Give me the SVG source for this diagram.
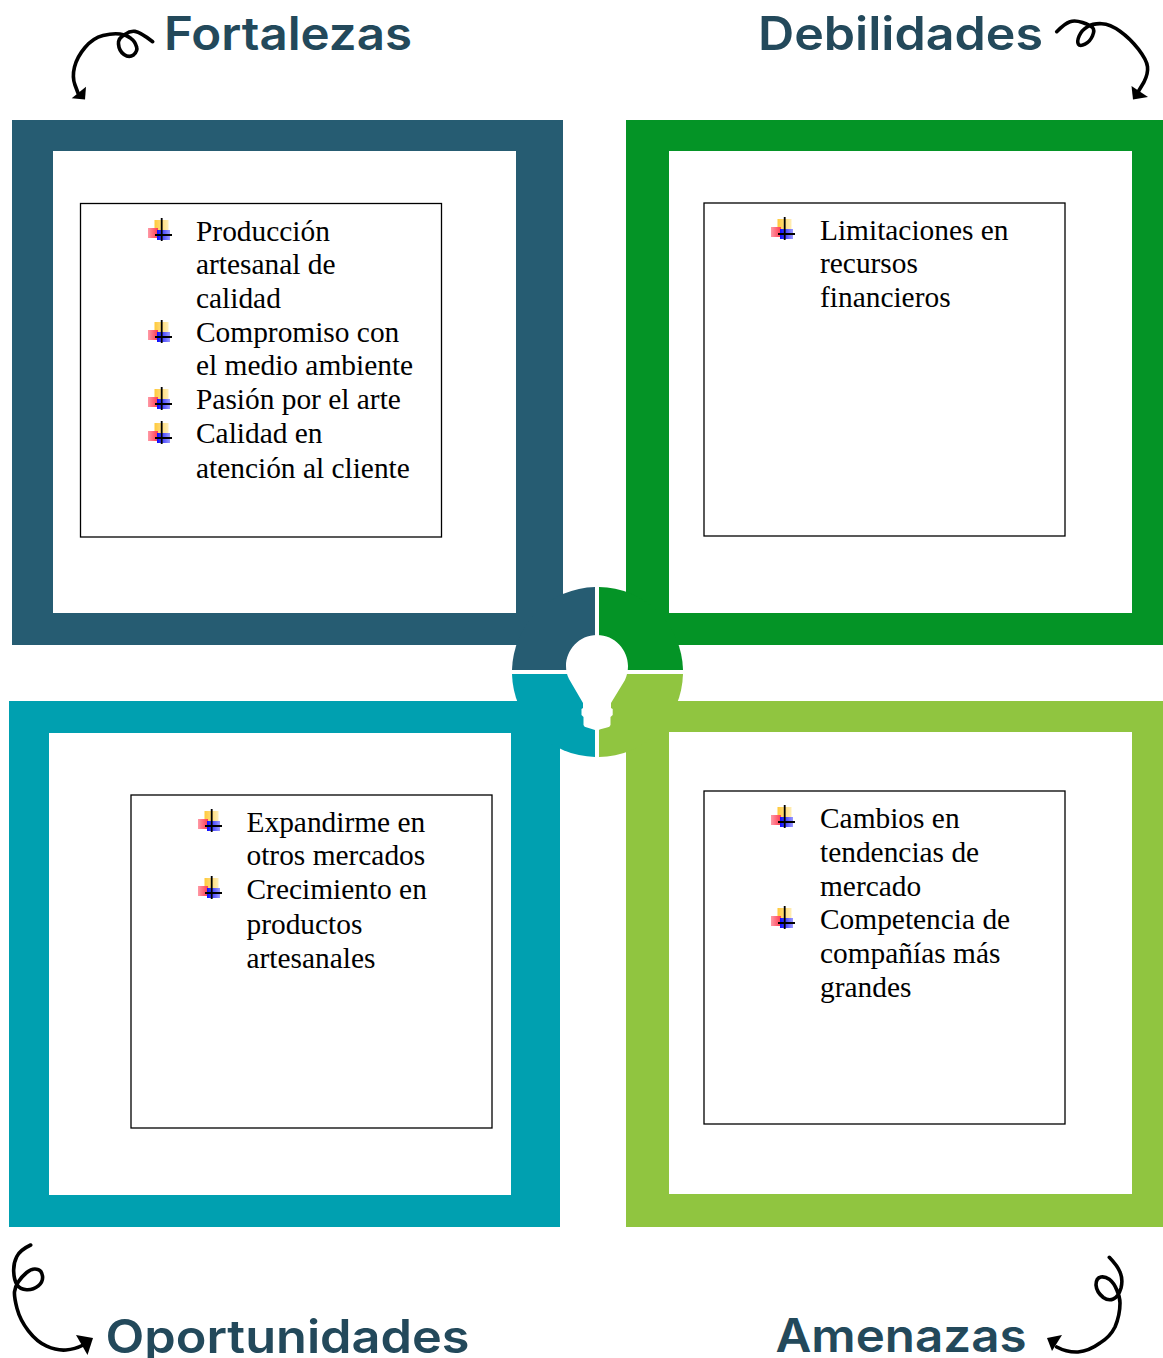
<svg xmlns="http://www.w3.org/2000/svg" width="1163" height="1358" viewBox="0 0 1163 1358">
<style>
.h{font-family:"Inter","Open Sans","Liberation Sans",sans-serif;font-weight:600;font-size:46px;fill:#23495b}
.t{font-family:"Liberation Serif","Times New Roman",serif;font-size:29.4px;fill:#000}
.box{fill:#fff;stroke:#000;stroke-width:1.3}
.c{fill:none;stroke:#000;stroke-width:3.6;stroke-linecap:round;stroke-linejoin:round}
.ah{fill:#000}
.in{fill:#fff}
</style>
<defs>
<linearGradient id="gy" x1="0" x2="1" y1="0" y2="0"><stop offset="0" stop-color="#ffc93a"/><stop offset="1" stop-color="#ffeeb8"/></linearGradient>
<linearGradient id="gr" x1="0" x2="1" y1="0" y2="0"><stop offset="0" stop-color="#ff9aa6"/><stop offset="1" stop-color="#ff3a50"/></linearGradient>
<linearGradient id="gb" x1="0" x2="1" y1="0" y2="0"><stop offset="0" stop-color="#0a0aff"/><stop offset="1" stop-color="#9a9aff"/></linearGradient>
<g id="b">
<rect x="6.5" y="-21" width="14" height="10" fill="url(#gy)"/>
<rect x="0" y="-13" width="10" height="10" fill="url(#gr)"/>
<rect x="9" y="-11" width="13" height="10" fill="url(#gb)"/>
<path d="M13.7 -23V0M7 -6H24" stroke="#000" stroke-width="1.8" fill="none"/>
</g>
</defs>
<rect width="1163" height="1358" fill="#fff"/>
<g id="node-fortalezas">
<path fill="#265c72" fill-rule="evenodd" d="M12 120H563V645H12ZM53 151V613H516V151Z"/>
<text class="h" x="164" y="50" textLength="248" lengthAdjust="spacingAndGlyphs">Fortalezas</text>
<rect class="box" x="80.5" y="203.5" width="361" height="333.5"/>
<use href="#b" x="148" y="241"/><use href="#b" x="148" y="343"/><use href="#b" x="148" y="410"/><use href="#b" x="148" y="444"/>
<text class="t" x="196" y="241">Producción</text>
<text class="t" x="196" y="274">artesanal de</text>
<text class="t" x="196" y="308">calidad</text>
<text class="t" x="196" y="342">Compromiso con</text>
<text class="t" x="196" y="375">el medio ambiente</text>
<text class="t" x="196" y="409">Pasión por el arte</text>
<text class="t" x="196" y="443">Calidad en</text>
<text class="t" x="196" y="478">atención al cliente</text>
</g>
<g id="node-debilidades">
<path fill="#049426" fill-rule="evenodd" d="M626 120H1163V645H626ZM669 151V613H1132V151Z"/>
<text class="h" x="758" y="50" textLength="285" lengthAdjust="spacingAndGlyphs">Debilidades</text>
<rect class="box" x="704" y="203" width="361" height="333"/>
<use href="#b" x="771" y="240"/>
<text class="t" x="820" y="240">Limitaciones en</text>
<text class="t" x="820" y="273">recursos</text>
<text class="t" x="820" y="307">financieros</text>
</g>
<g id="node-oportunidades">
<path fill="#00a0b0" fill-rule="evenodd" d="M9 701H560V1227H9ZM49 733V1195H511V733Z"/>
<text class="h" x="105.5" y="1353" textLength="364" lengthAdjust="spacingAndGlyphs">Oportunidades</text>
<rect class="box" x="131" y="795" width="361" height="333"/>
<use href="#b" x="198" y="832"/><use href="#b" x="198" y="899"/>
<text class="t" x="246.5" y="832">Expandirme en</text>
<text class="t" x="246.5" y="865">otros mercados</text>
<text class="t" x="246.5" y="899">Crecimiento en</text>
<text class="t" x="246.5" y="934">productos</text>
<text class="t" x="246.5" y="968">artesanales</text>
</g>
<g id="node-amenazas">
<path fill="#90c540" fill-rule="evenodd" d="M626 701H1163V1227H626ZM669 732V1194H1132V732Z"/>
<text class="h" x="775.5" y="1352" textLength="251" lengthAdjust="spacingAndGlyphs">Amenazas</text>
<rect class="box" x="704" y="791" width="361" height="333"/>
<use href="#b" x="771" y="828"/><use href="#b" x="771" y="929"/>
<text class="t" x="820" y="828">Cambios en</text>
<text class="t" x="820" y="862">tendencias de</text>
<text class="t" x="820" y="896">mercado</text>
<text class="t" x="820" y="929">Competencia de</text>
<text class="t" x="820" y="963">compañías más</text>
<text class="t" x="820" y="997">grandes</text>
</g>
<g id="node-center">
<path fill="#265c72" d="M595 670V587A85 85 0 0 0 512 670Z"/>
<path fill="#049426" d="M599 670V587A85 85 0 0 1 683 670Z"/>
<path fill="#00a0b0" d="M595 674V757A85 85 0 0 1 512 674Z"/>
<path fill="#90c540" d="M599 674V757A85 85 0 0 0 683 674Z"/>
<path class="in" d="M597 635C579 635 566 650 566 666C566 671 567 675 569 679L583 703V708L581.5 709V715L583.5 717V725Q584 727 587 727.5L595 730L597 732.5L599.5 729.5L607 727.5Q610 727 610.5 725V717L612.7 715V709L611 708V703L625 680C627 675 628 671 628 666C628 650 615 635 597 635Z"/>
</g>
<g id="connectors">
<path class="c" d="M152.7 41.7Q140 32 135 31.4Q130 30.7 125 34.4Q118 38 118.5 44Q119 51 124 54.5Q129 58 133.5 55Q138 51 136.5 46.7Q135 41 130.9 38.4Q126.7 35 119.9 34Q113 33 103 35.5Q93 38 85 47.5Q77 57 74.5 67Q72 77 75 85L78 93"/>
<path class="ah" d="M71.7 98.3L86 86.7L85 99.5Z"/>
<path class="c" d="M1056.7 31.7Q1065 23.3 1070 21.7Q1075 20 1082.5 22.5Q1090 25 1092.5 27.5Q1095 30 1092.5 35.9Q1090 41.7 1085 44.2Q1080 46.7 1078.4 44.2Q1076.7 41.7 1079.2 35.9Q1081.7 30 1087.5 26.7Q1093.3 23.3 1101.7 23.7Q1110 24 1120 31.2Q1130 38.3 1138.4 49.2Q1146.7 60 1147.5 66.7Q1148.3 73.3 1144 82L1138 92"/>
<path class="ah" d="M1131.5 86L1148 97L1133 99.5Z"/>
<path class="c" d="M30.7 1245Q20 1250 16.7 1256.7Q13.3 1263.3 13.7 1271.7Q14 1280 17 1284.7Q20 1289.3 26.7 1289.7Q33.3 1290 38.3 1285.9Q43.3 1281.7 42.5 1275.9Q41.7 1270 36.7 1269.2Q31.7 1268.3 26.7 1272.5Q21.7 1276.7 18.4 1281.7Q15 1286.7 14.5 1291.7Q14 1296.7 17 1308.4Q20 1320 28.4 1330.9Q36.7 1341.7 46.7 1346.2Q56.7 1350.7 65.9 1350Q75 1349.3 83.3 1345"/>
<path class="ah" d="M76 1335L93 1338L87.5 1355Z"/>
<path class="c" d="M1109.3 1257.3Q1118.3 1266.7 1120.5 1273.4Q1123 1280 1121 1288Q1118.3 1297 1113.3 1299Q1108.3 1301 1103.3 1297.5Q1096.5 1292 1096 1285Q1096 1278 1100.9 1277Q1105 1276.2 1109.2 1279.2Q1114 1283 1116.8 1290Q1120 1297 1120 1303Q1120 1315 1115 1327Q1110 1337 1100 1343Q1089 1351 1078 1352Q1067 1352.5 1056.7 1347"/>
<path class="ah" d="M1047 1338L1062 1335L1052 1351Z"/>
</g>
</svg>
